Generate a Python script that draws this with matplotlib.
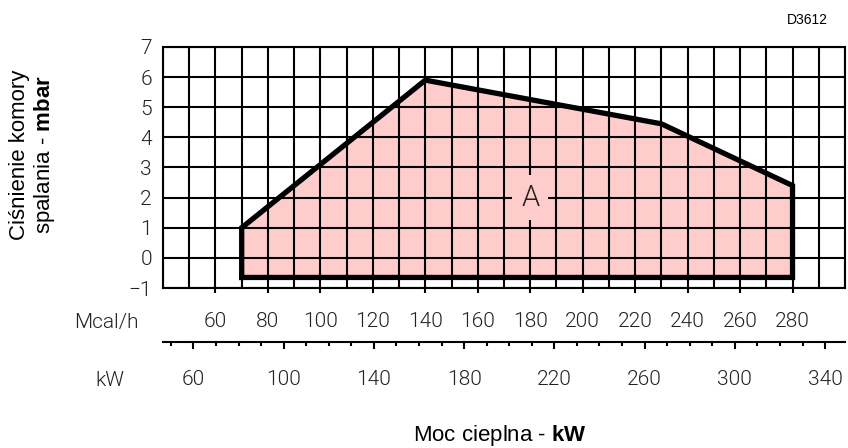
"""burner working range: combustion chamber pressure vs heat output"""

import numpy as np
import matplotlib
matplotlib.use("Agg")
import matplotlib.pyplot as plt
from matplotlib.ticker import MultipleLocator

# heat output in Mcal/h (lower scale in kW, 1 kW = 0.86 Mcal/h)
mcal_ticks = [60, 80, 100, 120, 140, 160, 180, 200, 220, 240, 260, 280]
kw_ticks = [60, 100, 140, 180, 220, 260, 300, 340]
mbar_ticks = [-1, 0, 1, 2, 3, 4, 5, 6, 7]

# working field "A"
range_mcal = [70, 70, 140, 230, 280, 280]
range_mbar = [-0.65, 1.0, 5.9, 4.45, 2.4, -0.65]
label_pos = (180, 2)

KW2MCAL = 0.86

plt.rcParams['font.family'] = ['Roboto', 'DejaVu Sans']
plt.rcParams['font.weight'] = 300
plt.rcParams['text.color'] = '#222222'
plt.rcParams['xtick.labelcolor'] = '#222222'
plt.rcParams['ytick.labelcolor'] = '#222222'
plt.rcParams['mathtext.fontset'] = 'custom'
plt.rcParams['mathtext.rm'] = 'Liberation Sans'
plt.rcParams['mathtext.bf'] = 'Liberation Sans:bold'

W, H = 848, 448
fig = plt.figure(figsize=(W / 100, H / 100), dpi=100)
ax = fig.add_axes([163 / W, 1 - 288 / H, (845 - 163) / W, (288 - 47) / H])

ax.fill(range_mcal, range_mbar, color='#ffcccc', lw=0, zorder=1)
ax.plot(range_mcal + range_mcal[:1], range_mbar + range_mbar[:1], color='k', lw=3.8,
        solid_joinstyle='miter', zorder=3)

ax.set_xlim(40, 300)
ax.set_ylim(-1, 7)
ax.set_xticks(mcal_ticks)
ax.xaxis.set_minor_locator(MultipleLocator(10))
ax.set_yticks(mbar_ticks)
ax.set_axisbelow(False)
ax.grid(which='both', color='k', lw=1.5)
for s in ax.spines.values():
    s.set_linewidth(1.5)
ax.tick_params(axis='x', which='major', direction='out', length=3.5, width=1.5,
               pad=14, labelsize=15)
ax.tick_params(axis='x', which='minor', length=0)
ax.tick_params(axis='y', length=0, pad=8, labelsize=15)

ax.text(label_pos[0], label_pos[1], 'A', fontsize=21, ha='center', va='center', zorder=4,
        bbox=dict(boxstyle='square,pad=0.3', fc='#ffcccc', ec='none'))

# kW scale below
sec = ax.secondary_xaxis(-(342 - 288) / (288 - 47),
                         functions=(lambda x: x / KW2MCAL, lambda x: x * KW2MCAL))
sec.set_xticks(kw_ticks)
sec.xaxis.set_minor_locator(MultipleLocator(10))
sec.spines['bottom'].set_linewidth(1.5)
sec.tick_params(which='major', direction='out', length=5, width=1.5, pad=15, labelsize=15)
sec.tick_params(which='minor', direction='out', length=3, width=1.5)

fig.text(106 / W, 1 - 322 / H, 'Mcal/h', fontsize=15, ha='center', va='center')
fig.text(110 / W, 1 - 380 / H, 'kW', fontsize=15, ha='center', va='center')

fig.text(33 / W, 1 - 155 / H, 'Ciśnienie komory\nspalania - $\\mathbf{mbar}$', rotation=90,
         ha='center', va='center', fontsize=16, family='Liberation Sans', weight='normal',
         color='k', linespacing=1.1)
fig.text(500 / W, 1 - 435 / H, 'Moc cieplna - $\\mathbf{kW}$', ha='center', va='center',
         fontsize=16, family='Liberation Sans', weight='normal', color='k')
fig.text(828 / W, 1 - 20 / H, 'D3612', ha='right', va='center', fontsize=10,
         family='Liberation Sans', weight='normal', color='k')

fig.savefig('out.png', dpi=100)
